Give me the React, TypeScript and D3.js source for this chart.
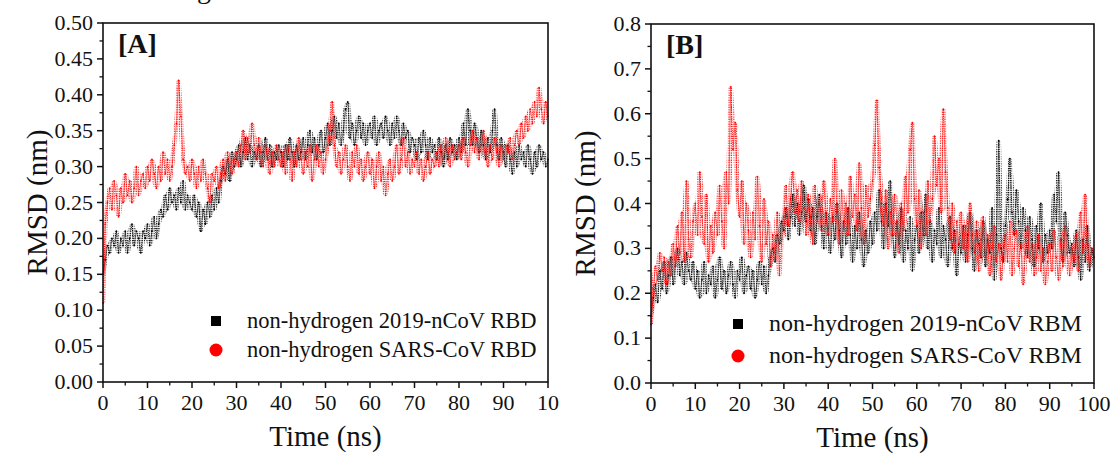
import React from "react";
import * as d3 from "d3";

// ---------- data (RMSD in nm, sampled every 0.5 ns from 0 to 100 ns) ----------
const STEP_NS = 0.5;

const rbdNCoV = [
  0.15,0.17,0.19,0.18,0.20,0.19,0.21,0.18,0.20,0.19, 0.21,0.18,0.20,0.22,0.19,0.21,0.20,0.18,0.21,0.20,
  0.22,0.19,0.21,0.23,0.20,0.22,0.24,0.23,0.26,0.24, 0.27,0.25,0.26,0.24,0.27,0.25,0.28,0.24,0.26,0.25,
  0.24,0.26,0.23,0.25,0.21,0.24,0.22,0.25,0.23,0.26, 0.24,0.27,0.25,0.28,0.30,0.29,0.31,0.28,0.32,0.30,
  0.31,0.33,0.30,0.32,0.34,0.31,0.33,0.30,0.32,0.31, 0.33,0.30,0.32,0.34,0.31,0.33,0.30,0.32,0.31,0.33,
  0.32,0.30,0.33,0.31,0.34,0.32,0.30,0.33,0.31,0.32, 0.34,0.31,0.33,0.35,0.32,0.34,0.31,0.33,0.35,0.32,
  0.34,0.36,0.33,0.35,0.37,0.34,0.36,0.33,0.35,0.38, 0.39,0.34,0.36,0.33,0.35,0.37,0.34,0.36,0.33,0.35,
  0.36,0.34,0.37,0.33,0.35,0.36,0.34,0.37,0.35,0.33, 0.36,0.34,0.37,0.35,0.33,0.36,0.34,0.35,0.32,0.34,
  0.33,0.31,0.34,0.32,0.35,0.33,0.31,0.34,0.32,0.33, 0.31,0.34,0.32,0.30,0.33,0.31,0.34,0.32,0.33,0.31,
  0.34,0.32,0.36,0.33,0.38,0.35,0.33,0.36,0.34,0.32, 0.35,0.33,0.31,0.34,0.32,0.35,0.38,0.33,0.31,0.34,
  0.32,0.30,0.33,0.31,0.29,0.32,0.30,0.33,0.31,0.32, 0.30,0.33,0.31,0.29,0.32,0.30,0.33,0.31,0.32,0.30,
  0.31,
];

const rbdSARS = [
  0.11,0.22,0.25,0.27,0.24,0.28,0.26,0.23,0.27,0.25, 0.29,0.26,0.28,0.25,0.27,0.30,0.26,0.28,0.29,0.27,
  0.30,0.28,0.31,0.29,0.27,0.30,0.28,0.32,0.29,0.31, 0.28,0.30,0.33,0.36,0.42,0.37,0.31,0.29,0.30,0.28,
  0.31,0.29,0.27,0.30,0.28,0.31,0.29,0.27,0.25,0.29, 0.28,0.30,0.27,0.29,0.31,0.28,0.32,0.30,0.29,0.31,
  0.32,0.30,0.33,0.35,0.31,0.34,0.32,0.36,0.33,0.31, 0.34,0.32,0.30,0.33,0.31,0.29,0.32,0.30,0.33,0.31,
  0.30,0.32,0.29,0.33,0.31,0.28,0.32,0.30,0.34,0.31, 0.29,0.32,0.30,0.33,0.28,0.31,0.33,0.30,0.32,0.29,
  0.31,0.33,0.35,0.39,0.33,0.30,0.32,0.29,0.31,0.33, 0.30,0.28,0.32,0.30,0.33,0.29,0.31,0.28,0.30,0.32,
  0.29,0.31,0.27,0.30,0.32,0.28,0.30,0.26,0.29,0.31, 0.28,0.30,0.33,0.29,0.31,0.34,0.30,0.32,0.29,0.31,
  0.30,0.32,0.29,0.31,0.28,0.30,0.32,0.29,0.31,0.30, 0.32,0.30,0.33,0.31,0.34,0.32,0.30,0.33,0.31,0.32,
  0.33,0.31,0.34,0.32,0.30,0.33,0.35,0.32,0.34,0.31, 0.33,0.35,0.32,0.30,0.33,0.31,0.34,0.32,0.30,0.33,
  0.31,0.33,0.32,0.34,0.31,0.33,0.35,0.33,0.36,0.34, 0.37,0.35,0.38,0.36,0.39,0.37,0.41,0.38,0.36,0.39,
  0.37,
];

const rbmNCoV = [
  0.15,0.19,0.22,0.18,0.25,0.21,0.27,0.20,0.24,0.28, 0.22,0.26,0.30,0.24,0.27,0.22,0.29,0.25,0.23,0.27,
  0.21,0.25,0.19,0.23,0.27,0.20,0.24,0.22,0.26,0.19, 0.23,0.28,0.21,0.25,0.20,0.24,0.27,0.22,0.19,0.25,
  0.23,0.28,0.20,0.24,0.26,0.21,0.25,0.19,0.23,0.27, 0.22,0.26,0.20,0.24,0.28,0.30,0.27,0.33,0.31,0.36,
  0.34,0.39,0.32,0.37,0.42,0.35,0.40,0.33,0.38,0.44, 0.36,0.41,0.34,0.39,0.31,0.37,0.42,0.35,0.30,0.38,
  0.33,0.29,0.37,0.32,0.40,0.34,0.28,0.36,0.31,0.39, 0.33,0.27,0.35,0.30,0.38,0.32,0.26,0.34,0.29,0.36,
  0.31,0.38,0.34,0.43,0.36,0.30,0.40,0.35,0.45,0.33, 0.28,0.36,0.31,0.39,0.27,0.34,0.30,0.37,0.25,0.32,
  0.35,0.29,0.38,0.33,0.42,0.30,0.36,0.27,0.34,0.31, 0.39,0.28,0.35,0.32,0.26,0.37,0.30,0.34,0.24,0.31,
  0.29,0.35,0.27,0.33,0.38,0.30,0.25,0.34,0.31,0.28, 0.36,0.26,0.32,0.29,0.39,0.23,0.33,0.54,0.30,0.27,
  0.35,0.41,0.50,0.38,0.33,0.43,0.36,0.30,0.39,0.34, 0.28,0.37,0.32,0.26,0.35,0.30,0.40,0.27,0.33,0.29,
  0.34,0.30,0.42,0.36,0.47,0.32,0.27,0.38,0.33,0.29, 0.31,0.26,0.34,0.28,0.23,0.32,0.27,0.35,0.25,0.30,
  0.28,
];

const rbmSARS = [
  0.13,0.21,0.26,0.23,0.29,0.25,0.28,0.22,0.27,0.24, 0.31,0.26,0.35,0.29,0.38,0.27,0.45,0.32,0.28,0.36,
  0.40,0.33,0.47,0.37,0.31,0.42,0.27,0.35,0.29,0.38, 0.33,0.44,0.36,0.30,0.47,0.40,0.66,0.52,0.58,0.43,
  0.37,0.45,0.31,0.40,0.34,0.28,0.38,0.32,0.46,0.35, 0.27,0.41,0.31,0.36,0.26,0.33,0.29,0.38,0.24,0.32,
  0.37,0.44,0.35,0.41,0.47,0.38,0.43,0.36,0.45,0.39, 0.33,0.42,0.37,0.31,0.44,0.36,0.40,0.34,0.45,0.38,
  0.33,0.41,0.36,0.50,0.38,0.31,0.43,0.35,0.40,0.33, 0.46,0.37,0.42,0.34,0.49,0.39,0.31,0.44,0.37,0.41,
  0.45,0.53,0.63,0.48,0.40,0.35,0.43,0.30,0.38,0.33, 0.42,0.36,0.29,0.40,0.34,0.46,0.38,0.52,0.58,0.41,
  0.35,0.43,0.30,0.38,0.33,0.45,0.36,0.41,0.55,0.44, 0.50,0.38,0.61,0.47,0.39,0.32,0.40,0.29,0.36,0.31,
  0.38,0.30,0.35,0.27,0.40,0.33,0.29,0.36,0.25,0.32, 0.37,0.28,0.33,0.24,0.30,0.35,0.27,0.31,0.23,0.29,
  0.33,0.27,0.36,0.24,0.30,0.34,0.26,0.31,0.22,0.29, 0.35,0.27,0.31,0.24,0.28,0.33,0.25,0.30,0.22,0.27,
  0.31,0.25,0.34,0.28,0.23,0.32,0.26,0.35,0.29,0.24, 0.30,0.27,0.33,0.25,0.38,0.29,0.42,0.31,0.26,0.30,
  0.28,
];

// tick labels
const xTicks = [0, 10, 20, 30, 40, 50, 60, 70, 80, 90, 100];
const xTickLabelsA = ["0", "10", "20", "30", "40", "50", "60", "70", "80", "90", "10"];
const xTickLabelsB = ["0", "10", "20", "30", "40", "50", "60", "70", "80", "90", "100"];
const yTicksA = [0, 0.05, 0.1, 0.15, 0.2, 0.25, 0.3, 0.35, 0.4, 0.45, 0.5];
const yTicksB = [0, 0.1, 0.2, 0.3, 0.4, 0.5, 0.6, 0.7, 0.8];

const legendA = ["non-hydrogen 2019-nCoV RBD", "non-hydrogen SARS-CoV RBD"];
const legendB = ["non-hydrogen 2019-nCoV RBM", "non-hydrogen SARS-CoV RBM"];

const FONT = "'Liberation Serif', 'Times New Roman', serif";
const BLACK = "#000000";
const RED = "#ff0000";

type Series = { values: number[]; color: string; pattern: string };
type PanelProps = {
  left: number; right: number; top: number; bottom: number;
  yMax: number; yTicks: number[]; yFmt: (v: number) => string;
  xLabels: string[]; series: Series[];
  tag: string; legend: string[]; legendX: number; legendY: number[]; legendFont: number;
};

// rolling envelope of neighbouring samples (window +-1 sample)
function envelope(vals: number[]) {
  return vals.map((_, i) => {
    const w = vals.slice(Math.max(0, i - 1), Math.min(vals.length, i + 2));
    return { i, lo: d3.min(w) as number, hi: d3.max(w) as number };
  });
}

function Panel(p: PanelProps) {
  const x = d3.scaleLinear().domain([0, 100]).range([p.left, p.right]);
  const y = d3.scaleLinear().domain([0, p.yMax]).range([p.bottom, p.top]);
  const line = d3.line<number>().x((_, i) => x(i * STEP_NS)).y((v) => y(v));
  const area = d3
    .area<{ i: number; lo: number; hi: number }>()
    .x((d) => x(d.i * STEP_NS))
    .y0((d) => y(d.lo))
    .y1((d) => y(d.hi));
  const yStep = p.yTicks[1] - p.yTicks[0];
  const yMinor = p.yTicks.slice(0, -1).map((t) => t + yStep / 2);
  const xMinor = xTicks.slice(0, -1).map((t) => t + 5);
  const mid = (p.top + p.bottom) / 2;
  return (
    <g>
      {p.series.map((s, si) => (
        <g key={si}>
          <path d={area(envelope(s.values)) || ""} fill={`url(#${s.pattern})`} stroke="none" />
          <path d={line(s.values) || ""} fill="none" stroke={s.color} strokeWidth={0.9} strokeDasharray="1.1 0.9" />
          {s.values.map((v, i) => (
            <circle key={i} cx={x(i * STEP_NS)} cy={y(v)} r={0.9} fill={s.color} />
          ))}
        </g>
      ))}
      {/* frame */}
      <rect x={p.left} y={p.top} width={p.right - p.left} height={p.bottom - p.top} fill="none" stroke="#111" strokeWidth={1.6} />
      {/* x ticks */}
      {xTicks.map((t, i) => (
        <g key={"xt" + i}>
          <line x1={x(t)} x2={x(t)} y1={p.bottom} y2={p.bottom + 6} stroke="#111" strokeWidth={1.5} />
          <text x={x(t)} y={p.bottom + 28} textAnchor="middle" fontFamily={FONT} fontSize={22} fill="#111">{p.xLabels[i]}</text>
        </g>
      ))}
      {xMinor.map((t, i) => (
        <line key={"xm" + i} x1={x(t)} x2={x(t)} y1={p.bottom} y2={p.bottom + 3.5} stroke="#111" strokeWidth={1.3} />
      ))}
      {/* y ticks */}
      {p.yTicks.map((t, i) => (
        <g key={"yt" + i}>
          <line x1={p.left - 6} x2={p.left} y1={y(t)} y2={y(t)} stroke="#111" strokeWidth={1.5} />
          <text x={p.left - 10} y={y(t) + 7} textAnchor="end" fontFamily={FONT} fontSize={22} fill="#111">{p.yFmt(t)}</text>
        </g>
      ))}
      {yMinor.map((t, i) => (
        <line key={"ym" + i} x1={p.left - 3.5} x2={p.left} y1={y(t)} y2={y(t)} stroke="#111" strokeWidth={1.3} />
      ))}
      {/* axis titles */}
      <text x={(p.left + p.right) / 2} y={p.bottom + 64} textAnchor="middle" fontFamily={FONT} fontSize={29} fill="#111">Time (ns)</text>
      <text transform={`translate(${p.left - 56},${mid}) rotate(-90)`} textAnchor="middle" fontFamily={FONT} fontSize={29} fill="#111">RMSD (nm)</text>
      {/* panel tag */}
      <text x={p.left + 15} y={p.top + 30} fontFamily={FONT} fontSize={28} fontWeight="bold" fill="#111">{p.tag}</text>
      {/* legend */}
      <rect x={p.legendX - 5} y={p.legendY[0] - 5} width={10} height={10} fill={BLACK} />
      <text x={p.legendX + 31} y={p.legendY[0] + 7} fontFamily={FONT} fontSize={p.legendFont} fill="#111">{p.legend[0]}</text>
      <circle cx={p.legendX} cy={p.legendY[1]} r={6.5} fill={RED} />
      <text x={p.legendX + 31} y={p.legendY[1] + 7} fontFamily={FONT} fontSize={p.legendFont} fill="#111">{p.legend[1]}</text>
    </g>
  );
}

export default function App() {
  return (
    <svg width={1116} height={454} style={{ position: "absolute", left: 0, top: 0, background: "#fff" }}>
      <defs>
        <pattern id="dotsBlack" patternUnits="userSpaceOnUse" width={2.4} height={2.4}>
          <rect x={0} y={0} width={1.2} height={1.2} fill={BLACK} />
        </pattern>
        <pattern id="dotsRed" patternUnits="userSpaceOnUse" width={2.4} height={2.4}>
          <rect x={1.2} y={1.2} width={1.2} height={1.2} fill={RED} />
        </pattern>
      </defs>
      <rect x={0} y={0} width={1116} height={454} fill="#fff" />
      <text x={197} y={-2} fontFamily={FONT} fontSize={28} fill="#111">g</text>
      <Panel
        left={103} right={548} top={23} bottom={382}
        yMax={0.5} yTicks={yTicksA} yFmt={d3.format(".2f")}
        xLabels={xTickLabelsA}
        series={[
          { values: rbdNCoV, color: BLACK, pattern: "dotsBlack" },
          { values: rbdSARS, color: RED, pattern: "dotsRed" },
        ]}
        tag="[A]" legend={legendA} legendX={216} legendY={[321, 350]} legendFont={22.5}
      />
      <Panel
        left={651} right={1094} top={24} bottom={383}
        yMax={0.8} yTicks={yTicksB} yFmt={d3.format(".1f")}
        xLabels={xTickLabelsB}
        series={[
          { values: rbmNCoV, color: BLACK, pattern: "dotsBlack" },
          { values: rbmSARS, color: RED, pattern: "dotsRed" },
        ]}
        tag="[B]" legend={legendB} legendX={738} legendY={[324, 356]} legendFont={24}
      />
    </svg>
  );
}
